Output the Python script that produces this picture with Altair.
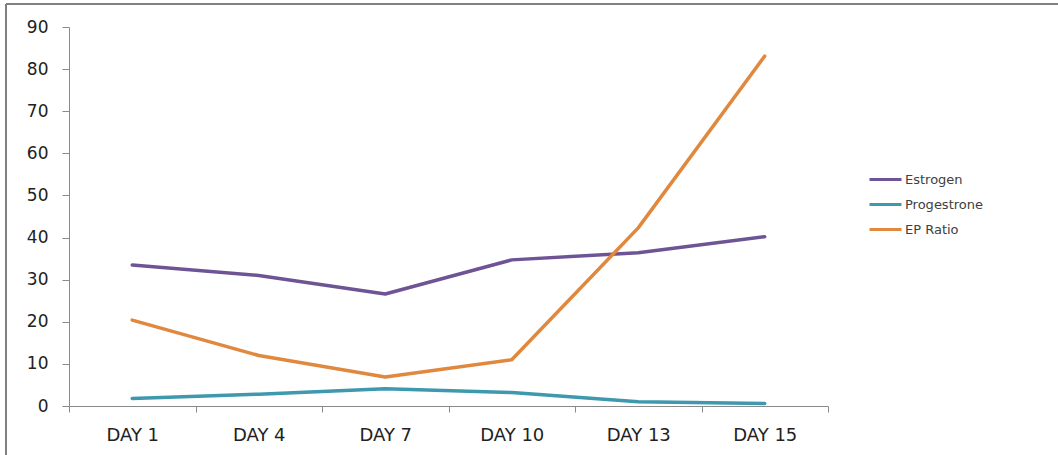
import altair as alt
import pandas as pd

# Cycle days and measured hormone levels
days = ["DAY 1", "DAY 4", "DAY 7", "DAY 10", "DAY 13", "DAY 15"]
estrogen = [33.5, 31.0, 26.6, 34.7, 36.4, 40.2]
progesterone = [1.8, 2.8, 4.1, 3.2, 1.0, 0.6]
ep_ratio = [20.4, 12.0, 6.9, 11.0, 42.3, 83.1]

series_names = ["Estrogen", "Progestrone", "EP Ratio"]
series_colors = ["#6E5494", "#3E98AE", "#E0883E"]

rows = []
for name, vals in zip(series_names, [estrogen, progesterone, ep_ratio]):
    for d, v in zip(days, vals):
        rows.append({"day": d, "value": v, "series": name})
df = pd.DataFrame(rows)

FONT = "DejaVu Sans"
W, H = 759, 379

lines = alt.Chart(df).mark_line(strokeWidth=3.5, strokeCap="round", strokeJoin="round").encode(
    x=alt.X(
        "day:N",
        sort=days,
        scale=alt.Scale(paddingInner=0, paddingOuter=0),
        axis=alt.Axis(
            title=None,
            labelAngle=0,
            tickBand="extent",
            tickSize=6,
            labelPadding=14,
            labelFont=FONT,
            labelFontSize=18,
            labelColor="#222222",
            domainColor="#8a8a8a",
            tickColor="#8a8a8a",
            grid=False,
        ),
    ),
    y=alt.Y(
        "value:Q",
        scale=alt.Scale(domain=[0, 90], nice=False),
        axis=alt.Axis(
            title=None,
            values=list(range(0, 91, 10)),
            tickSize=7,
            labelPadding=14,
            labelFont=FONT,
            labelFontSize=17,
            labelColor="#222222",
            domainColor="#8a8a8a",
            tickColor="#8a8a8a",
            grid=False,
        ),
    ),
    color=alt.Color(
        "series:N",
        sort=series_names,
        scale=alt.Scale(domain=series_names, range=series_colors),
        legend=alt.Legend(
            title=None,
            orient="none",
            legendX=799,
            legendY=135,
            symbolType="stroke",
            symbolSize=1024,
            symbolStrokeWidth=3,
            labelFont=FONT,
            labelFontSize=13,
            labelColor="#404040",
            labelOffset=2,
            rowPadding=-4,
        ),
    ),
)

# Outer frame edges (top and left)
frame_top = alt.Chart(pd.DataFrame({"k": [0]})).mark_rule(color="#808080", strokeWidth=2).encode(
    x=alt.value(-63), x2=alt.value(1058), y=alt.value(-23)
)
frame_left = alt.Chart(pd.DataFrame({"k": [0]})).mark_rule(color="#808080", strokeWidth=2).encode(
    x=alt.value(-63), y=alt.value(-23), y2=alt.value(455)
)

chart = alt.layer(frame_top, frame_left, lines).properties(
    width=W,
    height=H,
    autosize=alt.AutoSizeParams(type="none"),
    padding={"left": 69, "top": 27, "right": 230, "bottom": 49},
    background="white",
).configure_view(stroke=None)

chart.save("out.html", embed_options={"renderer": "svg", "actions": False})
